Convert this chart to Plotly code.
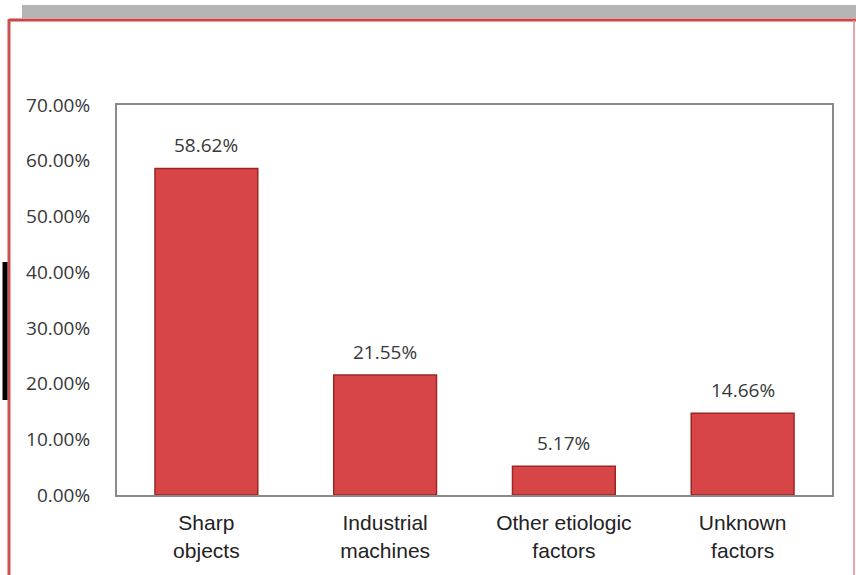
import plotly.graph_objects as go

categories = ["Sharp<br>objects", "Industrial<br>machines", "Other etiologic<br>factors", "Unknown<br>factors"]
values = [0.5862, 0.2155, 0.0517, 0.1466]
y_ticks = [0, 0.1, 0.2, 0.3, 0.4, 0.5, 0.6, 0.7]

W, H = 856, 575
L, R, T, B = 117, 24, 105, 80
pw, ph = W - L - R, H - T - B

def px(x):
    return (x - L) / pw

def py(y):
    return (H - B - y) / ph

fig = go.Figure()
fig.add_trace(go.Bar(
    x=categories, y=values,
    marker=dict(color="#d84547", line=dict(color="#9a2626", width=1.5)),
    width=0.575,
    hoverinfo="skip",
))

annotations = [
    dict(x=c, y=v, xref="x", yref="y", text=f"{v:.2%}", showarrow=False,
         yanchor="bottom", yshift=8,
         font=dict(family="Open Sans", size=19, color="#383838"))
    for c, v in zip(categories, values)
]

shapes = [
    dict(type="rect", xref="paper", yref="paper", x0=px(22), x1=px(856), y0=py(18), y1=py(5),
         fillcolor="#b4b4b4", line=dict(width=0), layer="below"),
    dict(type="line", xref="paper", yref="paper", x0=px(9), x1=px(856), y0=py(20), y1=py(20),
         line=dict(color="#cc4444", width=3)),
    dict(type="line", xref="paper", yref="paper", x0=px(9), x1=px(9), y0=py(19), y1=py(576),
         line=dict(color="#d05050", width=3)),
    dict(type="line", xref="paper", yref="paper", x0=px(854), x1=px(854), y0=py(20), y1=py(576),
         line=dict(color="#e08a8a", width=1.5)),
    dict(type="line", xref="paper", yref="paper", x0=px(5), x1=px(5), y0=py(262), y1=py(400),
         line=dict(color="#000000", width=5)),
]

fig.update_layout(
    width=W, height=H,
    margin=dict(l=L, r=R, t=T, b=B),
    paper_bgcolor="white", plot_bgcolor="white",
    showlegend=False,
    shapes=shapes,
    annotations=annotations,
    xaxis=dict(
        showline=True, linecolor="#8a8a8a", linewidth=2, mirror=True,
        tickfont=dict(family="Liberation Sans", size=21, color="#222222"),
        ticks="", ticklabelstandoff=8,
    ),
    yaxis=dict(
        range=[0, 0.7], tickvals=y_ticks, tickformat=".2%",
        showgrid=False, zeroline=False,
        showline=True, linecolor="#8a8a8a", linewidth=2, mirror=True,
        tickfont=dict(family="Open Sans", size=19, color="#383838"),
        ticks="", ticklabelstandoff=21,
    ),
)

fig.write_html("out.html")
